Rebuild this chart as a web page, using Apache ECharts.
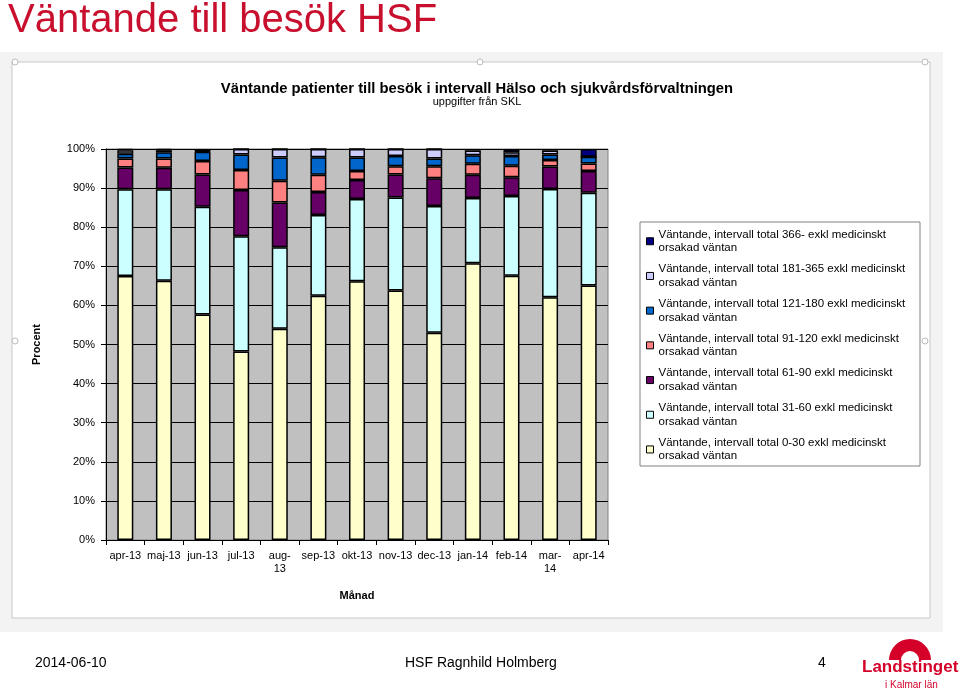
<!DOCTYPE html>
<html>
<head>
<meta charset="utf-8">
<script src="https://cdn.jsdelivr.net/npm/echarts@6/dist/echarts.min.js"></script>
<style>
html,body{margin:0;padding:0;background:#fff;}
#c{width:960px;height:693px;}
</style>
</head>
<body>
<div id="c"></div>
<script>
var categories = ['apr-13','maj-13','jun-13','jul-13','aug-13','sep-13','okt-13','nov-13','dec-13','jan-14','feb-14','mar-14','apr-14'];
var tickLabels = ['apr-13','maj-13','jun-13','jul-13','aug-\n13','sep-13','okt-13','nov-13','dec-13','jan-14','feb-14','mar-\n14','apr-14'];
var yTickLabels = ['0%','10%','20%','30%','40%','50%','60%','70%','80%','90%','100%'];

var seriesNames = [
  'Väntande, intervall total 0-30 exkl medicinskt orsakad väntan',
  'Väntande, intervall total 31-60 exkl medicinskt orsakad väntan',
  'Väntande, intervall total 61-90 exkl medicinskt orsakad väntan',
  'Väntande, intervall total 91-120 exkl medicinskt orsakad väntan',
  'Väntande, intervall total 121-180 exkl medicinskt orsakad väntan',
  'Väntande, intervall total 181-365 exkl medicinskt orsakad väntan',
  'Väntande, intervall total 366- exkl medicinskt orsakad väntan'
];
var d0_30    = [67.5, 66.3, 57.7, 48.2, 54.0, 62.5, 66.2, 63.8, 53.0, 70.8, 67.6, 62.1, 65.1];
var d31_60   = [22.2, 23.4, 27.5, 29.5, 20.9, 20.6, 21.0, 23.8, 32.4, 16.7, 20.4, 27.7, 23.7];
var d61_90   = [5.6, 5.5, 8.3, 11.8, 11.4, 5.9, 4.9, 5.9, 7.1, 5.9, 4.8, 5.7, 5.6];
var d91_120  = [2.3, 2.4, 3.4, 5.1, 5.6, 4.4, 2.3, 2.1, 3.1, 2.8, 2.9, 1.7, 1.9];
var d121_180 = [1.2, 1.6, 2.4, 4.0, 5.9, 4.5, 3.4, 2.6, 2.0, 2.2, 2.5, 1.4, 1.7];
var d181_365 = [0.9, 0.5, 0.2, 1.4, 2.2, 2.1, 2.2, 1.8, 2.4, 1.2, 1.0, 1.0, 0.0];
var d366     = [0.3, 0.3, 0.5, 0.0, 0.0, 0.0, 0.0, 0.0, 0.0, 0.4, 0.8, 0.4, 2.0];

var seriesData = [d0_30, d31_60, d61_90, d91_120, d121_180, d181_365, d366];
var colors = ['#FFFFCC','#CCFFFF','#660066','#FF8080','#0066CC','#CCCCFF','#000080'];

var chart = echarts.init(document.getElementById('c'), null, {renderer:'canvas'});
var FONT = 'Liberation Sans, Arial, sans-serif';

var series = seriesData.map(function(d, i){
  return {
    name: seriesNames[i],
    type: 'bar',
    stack: 'total',
    data: d,
    barWidth: 16,
    itemStyle: {color: colors[i], borderColor: '#000', borderWidth: 1.5},
    emphasis: {disabled: true}
  };
});

function wrapName(n){
  return n.replace(' orsakad väntan', '\norsakad väntan');
}

var option = {
  animation: false,
  backgroundColor: '#ffffff',
  textStyle: {fontFamily: FONT},
  graphic: [
    {type:'rect', z:-10, shape:{x:0,y:52,width:943,height:580}, style:{fill:'#f3f3f3'}},
    {type:'rect', z:-9, shape:{x:12,y:62,width:918,height:556}, style:{fill:'#ffffff', stroke:'#c8c8c8', lineWidth:1}},
    {type:'circle', z:-8, shape:{cx:15,cy:62,r:3}, style:{fill:'#fff', stroke:'#bbb'}},
    {type:'circle', z:-8, shape:{cx:480,cy:62,r:3}, style:{fill:'#fff', stroke:'#bbb'}},
    {type:'circle', z:-8, shape:{cx:925,cy:62,r:3}, style:{fill:'#fff', stroke:'#bbb'}},
    {type:'circle', z:-8, shape:{cx:15,cy:341,r:3}, style:{fill:'#fff', stroke:'#bbb'}},
    {type:'circle', z:-8, shape:{cx:925,cy:341,r:3}, style:{fill:'#fff', stroke:'#bbb'}},
    {type:'rect', z:-5, shape:{x:640,y:222,width:280,height:244}, style:{fill:'#ffffff', stroke:'#808080', lineWidth:1}},
    {type:'text', left:8, top:1, style:{text:'Väntande till besök HSF', font:'40px ' + FONT, fill:'#C8102E'}},
    {type:'text', left:35, top:656, style:{text:'2014-06-10', font:'14px ' + FONT, fill:'#000'}},
    {type:'text', left:405, top:656, style:{text:'HSF Ragnhild Holmberg', font:'14px ' + FONT, fill:'#000'}},
    {type:'text', left:818, top:656, style:{text:'4', font:'14px ' + FONT, fill:'#000'}},
    {type:'sector', shape:{cx:910,cy:660,r:21,r0:9,startAngle:Math.PI,endAngle:2*Math.PI}, style:{fill:'#D4002A'}},
    {type:'text', left:862, top:659, style:{text:'Landstinget', font:'bold 17px ' + FONT, fill:'#D4002A'}},
    {type:'text', left:885, top:680, style:{text:'i Kalmar län', font:'10px ' + FONT, fill:'#D4002A'}}
  ],
  title: {
    text: 'Väntande patienter till besök i intervall Hälso och sjukvårdsförvaltningen',
    subtext: 'uppgifter från SKL',
    left: 472, textAlign: 'center',
    top: 76,
    itemGap: 0,
    textStyle: {fontSize: 14.8, fontWeight: 'bold', color: '#000', fontFamily: FONT},
    subtextStyle: {fontSize: 11, color: '#000', fontFamily: FONT}
  },
  legend: {
    orient: 'vertical',
    left: 646,
    top: 221,
    padding: 0,
    itemGap: -5.8,
    itemWidth: 7,
    itemHeight: 7,
    icon: 'rect',
    selectedMode: false,
    data: seriesNames.slice().reverse(),
    formatter: wrapName,
    itemStyle: {borderColor: '#000', borderWidth: 1},
    textStyle: {fontSize: 11.5, color: '#000', fontFamily: FONT, lineHeight: 13.5, padding: [13.5, 0, 0, 0]}
  },
  grid: {
    left: 106, right: 352, top: 149, bottom: 153,
    show: true, backgroundColor: '#C0C0C0', borderColor: '#808080', borderWidth: 1
  },
  xAxis: {
    type: 'category',
    data: categories,
    name: 'Månad',
    nameLocation: 'middle',
    nameGap: 50,
    nameTextStyle: {fontSize: 11, fontWeight: 'bold', color: '#000', fontFamily: FONT},
    axisLine: {lineStyle: {color: '#000', width: 1}},
    axisTick: {show: true, length: 5, lineStyle: {color: '#000'}},
    axisLabel: {
      color: '#000', fontSize: 11, margin: 9, interval: 0, lineHeight: 13,
      formatter: function(v, i){ return tickLabels[i]; }
    }
  },
  yAxis: {
    type: 'value',
    min: 0, max: 100, interval: 10,
    name: 'Procent',
    nameLocation: 'middle',
    nameGap: 64,
    nameRotate: 90,
    nameTextStyle: {fontSize: 11, fontWeight: 'bold', color: '#000', fontFamily: FONT},
    axisLine: {show: true, lineStyle: {color: '#000', width: 1}},
    axisTick: {show: true, length: 5, lineStyle: {color: '#000'}},
    axisLabel: {
      color: '#000', fontSize: 11, margin: 11,
      formatter: function(v){ return yTickLabels[Math.round(v/10)]; }
    },
    splitLine: {show: true, lineStyle: {color: '#000', width: 1}}
  },
  series: series
};
chart.setOption(option);
</script>
</body>
</html>
